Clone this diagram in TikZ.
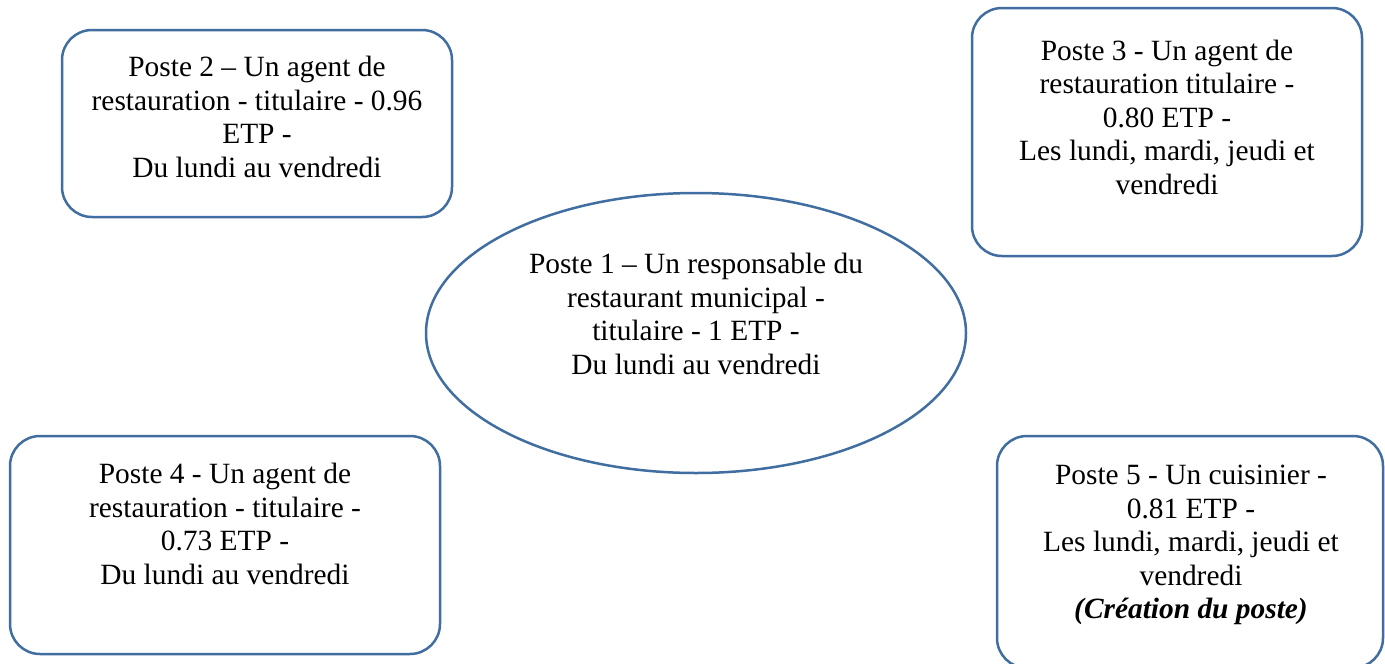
\documentclass[tikz,border=0pt]{standalone}
\usepackage{fontspec}
\setmainfont{Liberation Serif}
\usetikzlibrary{shapes.geometric}
\definecolor{edgeblue}{RGB}{65,110,160}
\tikzset{
  rbox/.style={draw=edgeblue, line width=2.5pt, rounded corners=30pt, fill=white, inner sep=0pt},
  oval/.style={draw=edgeblue, line width=2.5pt, ellipse, fill=white, inner sep=0pt},
  txt/.style={align=center, inner sep=0pt, font=\fontsize{29.4}{33.5}\selectfont, text=black}
}
\begin{document}
\begin{tikzpicture}[x=1pt,y=-1pt]
\useasboundingbox[fill=white] (0,0) rectangle (1385,664);
% shapes
\node[rbox, minimum width=390pt, minimum height=187pt] (p2) at (257,123.5) {};
\node[rbox, minimum width=390pt, minimum height=248pt] (p3) at (1167,132) {};
\node[oval, minimum width=540pt, minimum height=280pt] (p1) at (696,333) {};
\node[rbox, minimum width=430pt, minimum height=218pt] (p4) at (225,545) {};
\node[rbox, minimum width=386pt, minimum height=232pt] (p5) at (1190,552) {};
% texts
\node[txt] (t2) at (257,117) {Poste 2 – Un agent de\\restauration - titulaire - 0.96\\ETP -\\Du lundi au vendredi};
\node[txt] (t3) at (1167,117) {Poste 3 - Un agent de\\restauration titulaire -\\0.80 ETP -\\Les lundi, mardi, jeudi et\\vendredi};
\node[txt] (t1) at (696,314) {Poste 1 – Un responsable du\\restaurant municipal -\\titulaire - 1 ETP -\\Du lundi au vendredi};
\node[txt] (t4) at (225,524) {Poste 4 - Un agent de\\restauration - titulaire -\\0.73 ETP -\\Du lundi au vendredi};
\node[txt] (t5) at (1191,545) {Poste 5 - Un cuisinier -\\0.81 ETP -\\Les lundi, mardi, jeudi et\\vendredi\\\textbf{\textit{(Création du poste)}}};
\end{tikzpicture}
\end{document}
